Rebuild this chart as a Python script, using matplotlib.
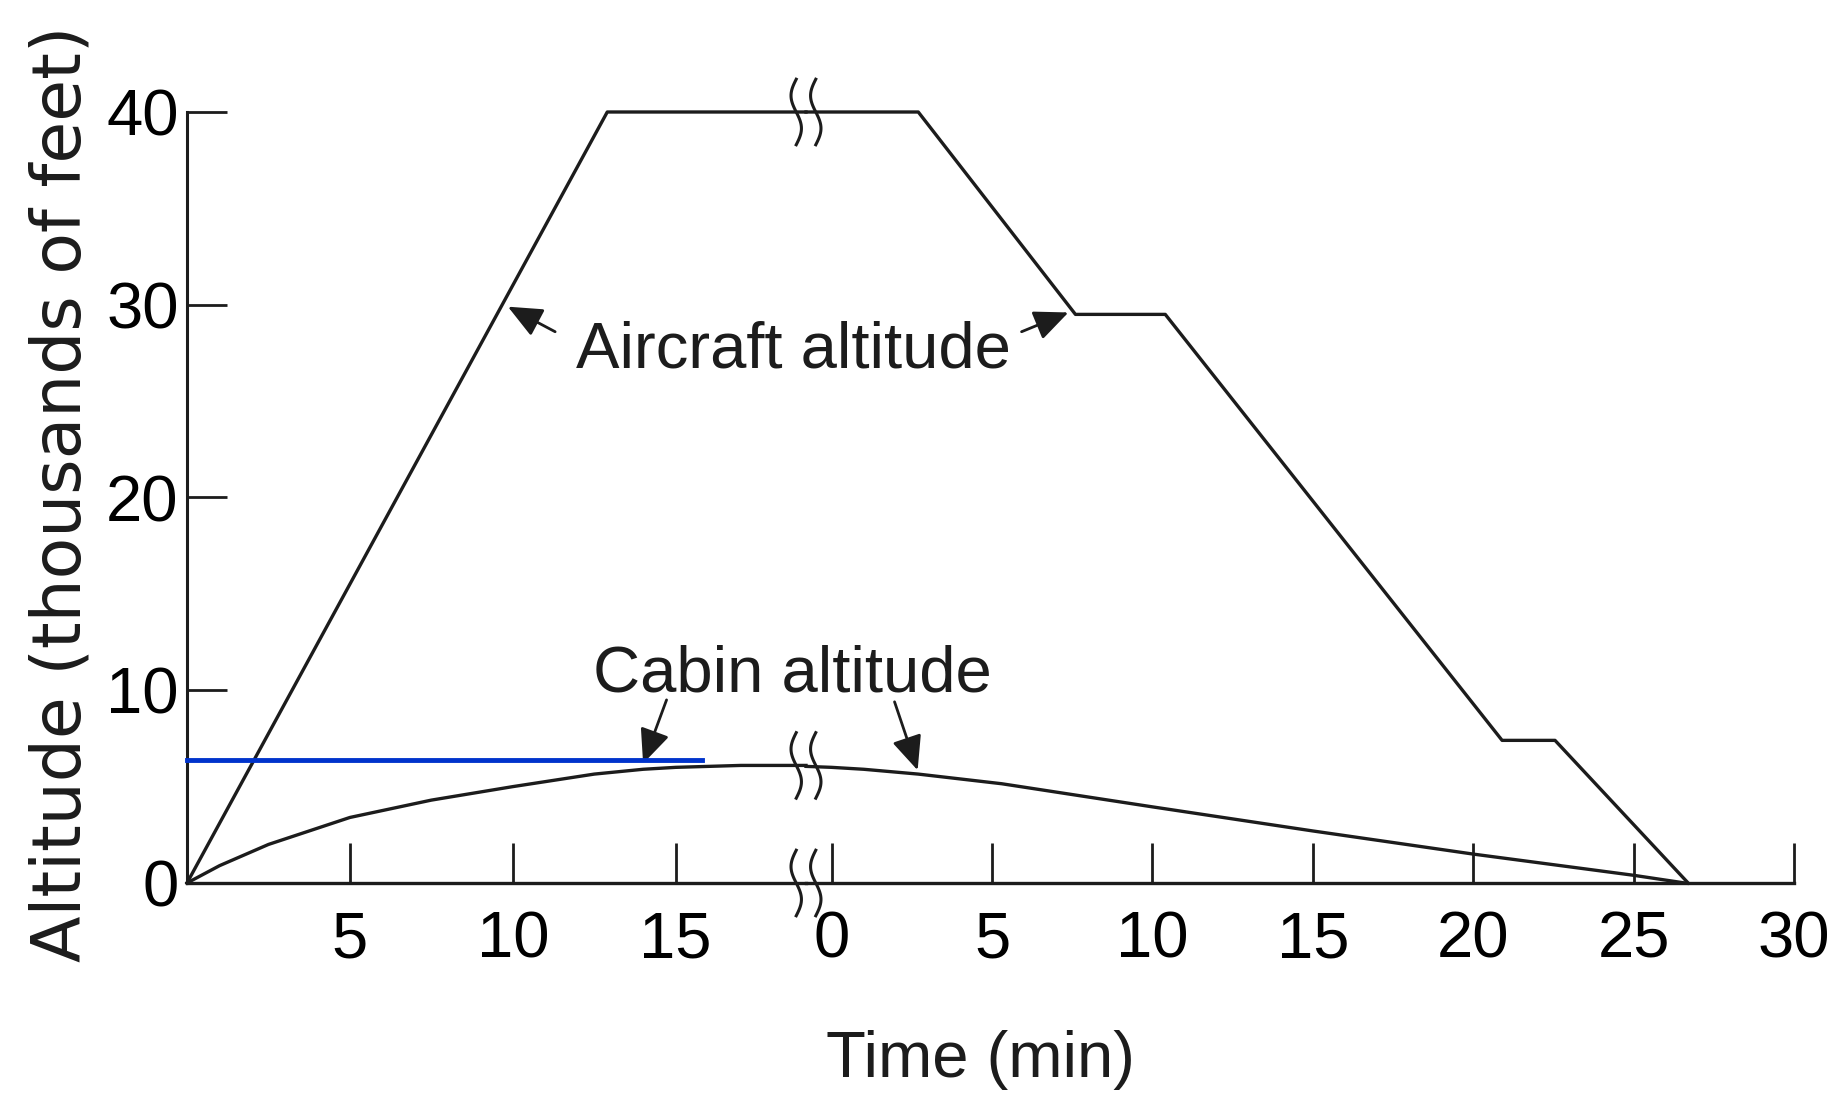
import numpy as np
import matplotlib.pyplot as plt
from matplotlib import font_manager

# aircraft, left of the break (minutes after take-off) and right of it (minutes of the descent)
climb_t = [0, 12.9, 19.0]
climb_alt = [0, 40, 40]
descent_t = [-0.8, 2.7, 7.6, 10.4, 20.9, 22.55, 26.7]
descent_alt = [40, 40, 29.5, 29.5, 7.4, 7.4, 0]

# cabin altitude, same two parts
cabin_t1 = [0, 1, 2.5, 5, 7.5, 10, 12.5, 14, 15, 17, 19.0]
cabin_alt1 = [0, 0.9, 2.0, 3.4, 4.3, 5.0, 5.65, 5.9, 6.0, 6.1, 6.1]
cabin_t2 = [-0.8, 0, 1.0, 2.7, 5.3, 10, 15, 20, 25, 26.6]
cabin_alt2 = [6.05, 6.0, 5.9, 5.65, 5.15, 3.95, 2.7, 1.5, 0.4, 0]

# blue reference line drawn over the scan
ref_t = [0, 15.8]
ref_alt = [6.4, 6.4]

yticks = [0, 10, 20, 30, 40]
xticks_left = [5, 10, 15]
xticks_right = [0, 5, 10, 15, 20, 25, 30]

names = {f.name for f in font_manager.fontManager.ttflist}
if 'Liberation Sans Narrow' in names:
    label_font, label_size = 'Liberation Sans Narrow', 57
else:
    label_font, label_size = 'Liberation Sans', 47

plt.rcParams['font.family'] = ['Liberation Sans', 'DejaVu Sans']
plt.rcParams['font.size'] = 47

ink = '#1c1c1c'
W, H = 1843, 1095

fig = plt.figure(figsize=(W / 100, H / 100), dpi=100)
ax1 = fig.add_axes([187 / W, 1 - 883 / H, (806 - 187) / W, (883 - 112) / H])
ax2 = fig.add_axes([806 / W, 1 - 883 / H, (1794 - 806) / W, (883 - 112) / H])

lw = 2.4
ax1.plot(climb_t, climb_alt, color=ink, lw=lw, clip_on=False)
ax1.plot(cabin_t1, cabin_alt1, color=ink, lw=lw, clip_on=False)
ax1.plot(ref_t, ref_alt, color='#0033cc', lw=3.5, clip_on=False, zorder=5)
ax2.plot(descent_t, descent_alt, color=ink, lw=lw, clip_on=False)
ax2.plot(cabin_t2, cabin_alt2, color=ink, lw=lw, clip_on=False)

ax1.set_xlim(0, 19.0)
ax2.set_xlim(-0.8, 30)
ax1.set_ylim(0, 40)
ax2.set_ylim(0, 40)

for sp in ['top', 'right']:
    ax1.spines[sp].set_visible(False)
for sp in ['top', 'right', 'left']:
    ax2.spines[sp].set_visible(False)
for ax in (ax1, ax2):
    ax.spines['bottom'].set_linewidth(2.4)
    ax.spines['bottom'].set_color(ink)
    ax.set_facecolor('none')
ax1.spines['left'].set_linewidth(2.2)
ax1.spines['left'].set_color(ink)

ax1.set_yticks(yticks)
ax1.set_xticks(xticks_left)
ax2.set_xticks(xticks_right)
ax1.tick_params(axis='both', direction='in', length=29, width=2, color=ink)
ax1.tick_params(axis='y', pad=6)
ax1.tick_params(axis='x', pad=20)
ax2.tick_params(axis='x', direction='in', length=29, width=2, color=ink, pad=20)
ax2.tick_params(axis='y', left=False, labelleft=False)

# axis-break marks across each line
s = np.linspace(0, 1, 40)
for yb in (40, 6.1, 0):
    for dx in (-0.3, 0.3):
        ax1.plot(19.0 + dx - 0.16 * np.sin(2 * np.pi * s), yb + 1.7 - 3.4 * s,
                 color=ink, lw=2.2, clip_on=False, zorder=6)

arrow = dict(arrowstyle='-|>,head_length=0.5,head_width=0.22', mutation_scale=42,
             color=ink, lw=2, shrinkA=0, shrinkB=0)
ax1.annotate('', xy=(9.85, 29.9), xytext=(11.3, 28.6), arrowprops=arrow)
ax2.annotate('', xy=(7.38, 29.6), xytext=(5.92, 28.6), arrowprops=arrow)
ax1.annotate('', xy=(14.0, 6.2), xytext=(14.72, 9.5), arrowprops=arrow)
ax2.annotate('', xy=(2.68, 5.85), xytext=(1.96, 9.4), arrowprops=arrow)

fig.text(793 / W, 1 - 368 / H, 'Aircraft altitude', ha='center', va='baseline',
         family=label_font, fontsize=label_size, color=ink)
fig.text(792 / W, 1 - 692 / H, 'Cabin altitude', ha='center', va='baseline',
         family=label_font, fontsize=label_size, color=ink)
fig.text(980 / W, 1 - 1077 / H, 'Time (min)', ha='center', va='baseline',
         family=label_font, fontsize=label_size, color=ink)
fig.text(62 / W, 1 - 494 / H, 'Altitude (thousands of feet)', rotation=90,
         ha='center', va='center', family='DejaVu Sans', fontsize=49, color=ink)

fig.savefig('out.png', dpi=100)
